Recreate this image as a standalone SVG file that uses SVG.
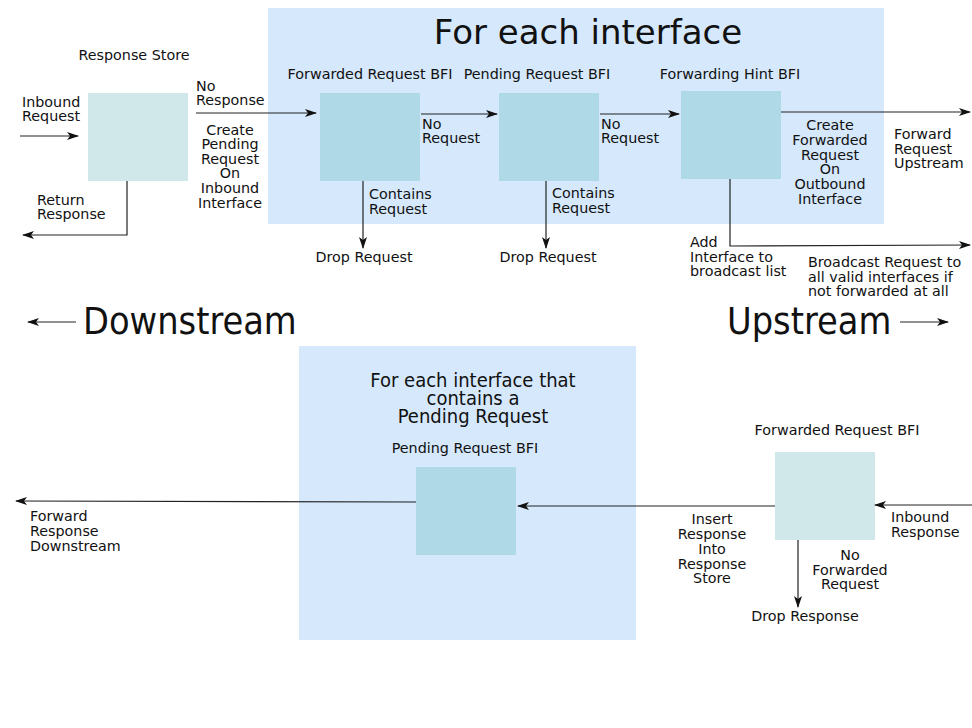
<svg xmlns="http://www.w3.org/2000/svg" width="972" height="728" viewBox="0 0 972 728">
<style>
text{font-family:"DejaVu Sans","Liberation Sans",sans-serif;font-size:14.3px;fill:#111}
.c{text-anchor:middle}
.big{font-family:"DejaVu Sans Condensed","DejaVu Sans",sans-serif;font-size:37.5px}
.title{font-size:34px}
.sub{font-family:"DejaVu Sans Condensed","DejaVu Sans",sans-serif;font-size:20px}
.group{fill:#d5e8fc}
.store{fill:#d1e8eb}
.bfi{fill:#b0d9e8}
.ln{fill:none;stroke:#222;stroke-width:1.2}
</style>
<defs>
<marker id="ah" viewBox="0 0 12 8" refX="11" refY="4" markerWidth="12" markerHeight="8" markerUnits="userSpaceOnUse" orient="auto">
<path d="M0,0 L12,4 L0,8 L3,4 Z" fill="#111"/>
</marker>
</defs>
<rect id="top-group" class="group" x="268" y="8" width="616" height="216"/>
<text class="title c" x="588" y="44">For each interface</text>
<rect id="bottom-group" class="group" x="299" y="346" width="337" height="294"/>
<text class="sub c" x="473" y="387">For each interface that</text>
<text class="sub c" x="473" y="405">contains a</text>
<text class="sub c" x="473" y="423">Pending Request</text>

<g id="response-store">
<rect class="store" x="88" y="93" width="100" height="88"/>
<text class="c" x="134" y="60">Response Store</text>
</g>
<g id="forwarded-request-bfi">
<rect class="bfi" x="320" y="93" width="100" height="88"/>
<text class="c" x="370" y="79">Forwarded Request BFI</text>
</g>
<g id="pending-request-bfi">
<rect class="bfi" x="499" y="93" width="100" height="88"/>
<text class="c" x="537" y="79">Pending Request BFI</text>
</g>
<g id="forwarding-hint-bfi">
<rect class="bfi" x="681" y="91" width="100" height="88"/>
<text class="c" x="730" y="79">Forwarding Hint BFI</text>
</g>
<g id="pending-request-bfi-2">
<rect class="bfi" x="416" y="467" width="100" height="88"/>
<text class="c" x="465" y="453">Pending Request BFI</text>
</g>
<g id="forwarded-request-bfi-2">
<rect class="store" x="775" y="452" width="100" height="88"/>
<text class="c" x="837" y="435">Forwarded Request BFI</text>
</g>

<g id="connectors">
<path class="ln" d="M20,136 H78" marker-end="url(#ah)"/>
<path class="ln" d="M127,181 V235 H23" marker-end="url(#ah)"/>
<path class="ln" d="M196,113 H316" marker-end="url(#ah)"/>
<path class="ln" d="M421,114 H497" marker-end="url(#ah)"/>
<path class="ln" d="M600,114 H679" marker-end="url(#ah)"/>
<path class="ln" d="M781,112 H970" marker-end="url(#ah)"/>
<path class="ln" d="M363,181 V248" marker-end="url(#ah)"/>
<path class="ln" d="M546,181 V248" marker-end="url(#ah)"/>
<path class="ln" d="M730,179 V246 L970,245" marker-end="url(#ah)"/>
<path class="ln" d="M76,322 H28" marker-end="url(#ah)"/>
<path class="ln" d="M900,322 H948" marker-end="url(#ah)"/>
<path class="ln" d="M416,502 L16,501" marker-end="url(#ah)"/>
<path class="ln" d="M775,506 H518" marker-end="url(#ah)"/>
<path class="ln" d="M972,505 H875" marker-end="url(#ah)"/>
<path class="ln" d="M798,540 V607" marker-end="url(#ah)"/>
</g>

<g id="labels">
<text x="22" y="107">Inbound</text>
<text x="22" y="121">Request</text>
<text x="37" y="205">Return</text>
<text x="37" y="219">Response</text>
<text x="196" y="91">No</text>
<text x="196" y="105">Response</text>
<text class="c" x="230" y="135">Create</text>
<text class="c" x="230" y="149">Pending</text>
<text class="c" x="230" y="164">Request</text>
<text class="c" x="230" y="178">On</text>
<text class="c" x="230" y="193">Inbound</text>
<text class="c" x="230" y="208">Interface</text>
<text x="422" y="129">No</text>
<text x="422" y="143">Request</text>
<text x="601" y="129">No</text>
<text x="601" y="143">Request</text>
<text x="369" y="199">Contains</text>
<text x="369" y="214">Request</text>
<text x="552" y="198">Contains</text>
<text x="552" y="213">Request</text>
<text class="c" x="364" y="262">Drop Request</text>
<text class="c" x="548" y="262">Drop Request</text>
<text class="c" x="830" y="130">Create</text>
<text class="c" x="830" y="145">Forwarded</text>
<text class="c" x="830" y="160">Request</text>
<text class="c" x="830" y="174">On</text>
<text class="c" x="830" y="189">Outbound</text>
<text class="c" x="830" y="204">Interface</text>
<text x="894" y="139">Forward</text>
<text x="894" y="154">Request</text>
<text x="894" y="168">Upstream</text>
<text x="690" y="247">Add</text>
<text x="690" y="262">Interface to</text>
<text x="690" y="276">broadcast list</text>
<text x="808" y="267">Broadcast Request to</text>
<text x="808" y="282">all valid interfaces if</text>
<text x="808" y="296">not forwarded at all</text>
<text class="big" x="83" y="334">Downstream</text>
<text class="big" x="727" y="334">Upstream</text>
<text x="30" y="521">Forward</text>
<text x="30" y="536">Response</text>
<text x="30" y="551">Downstream</text>
<text class="c" x="712" y="524">Insert</text>
<text class="c" x="712" y="539">Response</text>
<text class="c" x="712" y="554">Into</text>
<text class="c" x="712" y="569">Response</text>
<text class="c" x="712" y="583">Store</text>
<text x="891" y="522">Inbound</text>
<text x="891" y="537">Response</text>
<text class="c" x="850" y="560">No</text>
<text class="c" x="850" y="575">Forwarded</text>
<text class="c" x="850" y="589">Request</text>
<text class="c" x="805" y="621">Drop Response</text>
</g>
</svg>
